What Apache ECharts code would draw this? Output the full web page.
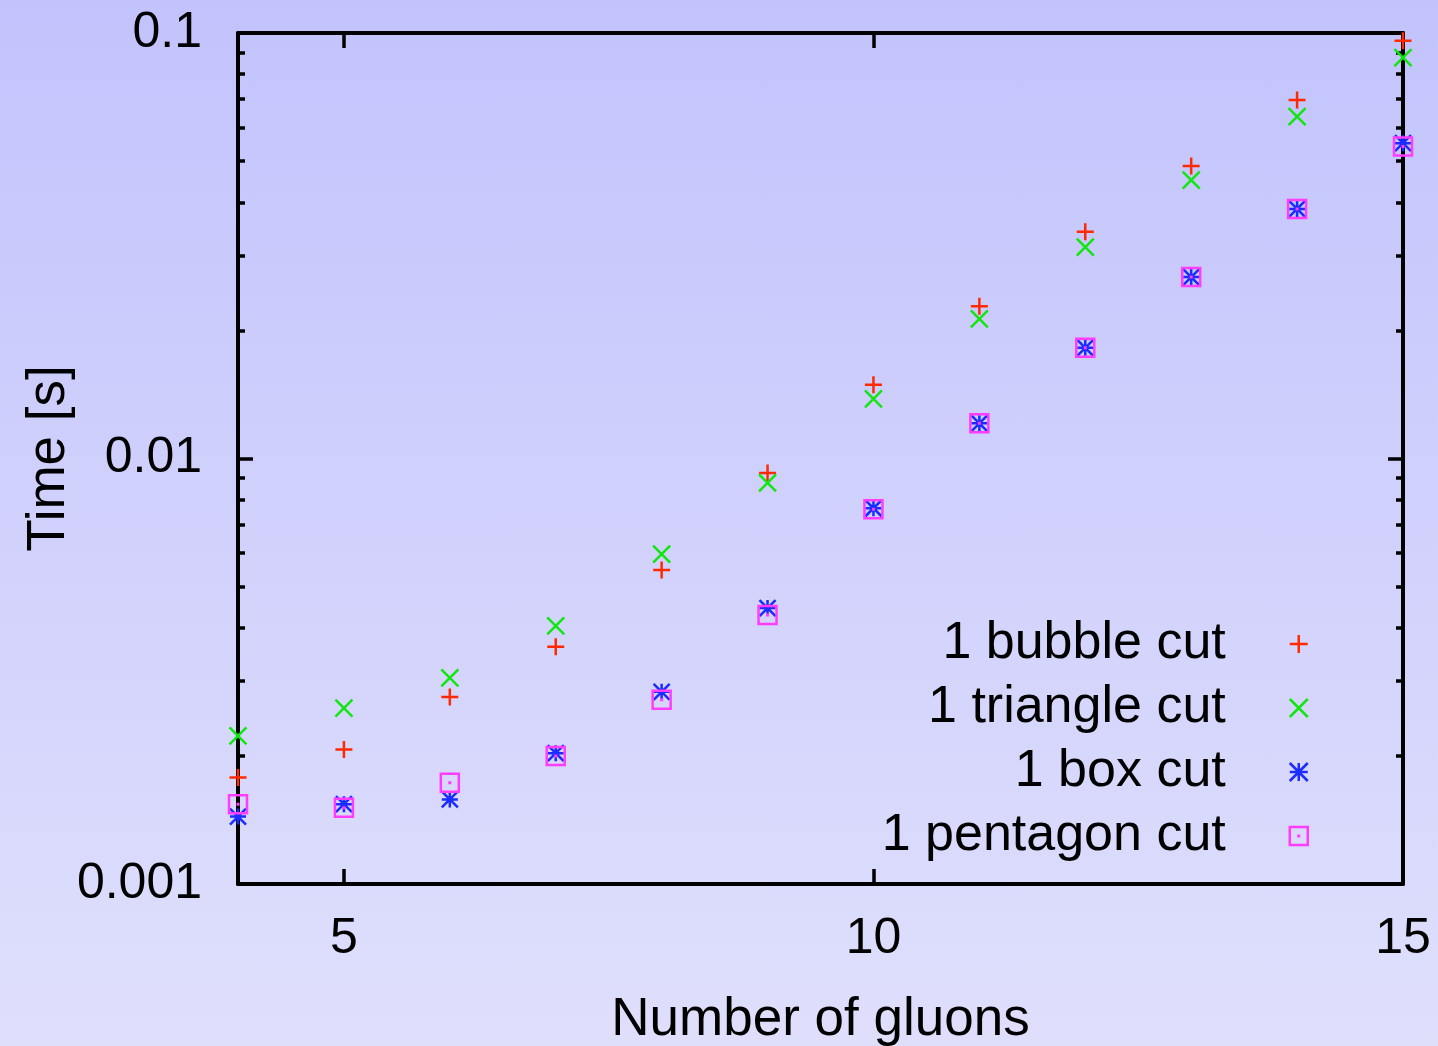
<!DOCTYPE html>
<html>
<head>
<meta charset="utf-8">
<script src="https://cdn.jsdelivr.net/npm/echarts@6/dist/echarts.min.js"></script>
<style>
html,body{margin:0;padding:0;width:1438px;height:1046px;overflow:hidden;background:linear-gradient(#c2c3fc,#dfdffc);}
#chart{width:1438px;height:1046px;}
</style>
</head>
<body>
<div id="chart"></div>
<script>
var gluons = [4, 5, 6, 7, 8, 9, 10, 11, 12, 13, 14, 15];
var bubbleCut = [0.00178, 0.00207, 0.00275, 0.00361, 0.00547, 0.00925, 0.0149, 0.0228, 0.0341, 0.0487, 0.0696, 0.0959];
var triangleCut = [0.00223, 0.00259, 0.00305, 0.00404, 0.00596, 0.00876, 0.0138, 0.0213, 0.0314, 0.0451, 0.0636, 0.0875];
var boxCut = [0.00144, 0.00154, 0.00158, 0.00203, 0.00283, 0.00445, 0.00764, 0.0121, 0.0182, 0.0267, 0.0386, 0.0551];
var pentagonCut = [0.00154, 0.00151, 0.00173, 0.0020, 0.00271, 0.00429, 0.0076, 0.0121, 0.0182, 0.0267, 0.0386, 0.0541];
var seriesNames = ['1 bubble cut', '1 triangle cut', '1 box cut', '1 pentagon cut'];
var xTickValues = [5, 10, 15];
var yTickValues = [0.001, 0.01, 0.1];
var yMinorTickValues = [0.002, 0.003, 0.004, 0.005, 0.006, 0.007, 0.008, 0.009,
                        0.02, 0.03, 0.04, 0.05, 0.06, 0.07, 0.08, 0.09];

var FONT = 'Liberation Sans';
function pairs(ys) { return gluons.map(function (x, i) { return [x, ys[i]]; }); }

var symbols = {
  plus: 'path://M5 0 V10 M0 5 H10',
  cross: 'path://M0 0 L10 10 M10 0 L0 10',
  star: 'path://M5 0 V10 M0 5 H10 M0 0 L10 10 M10 0 L0 10',
  boxdot: 'path://M0 0 H10 V10 H0 Z M4.85 4.85 H5.15 V5.15 H4.85 Z'
};
var colors = ['#ff2a00', '#11e611', '#1a2cff', '#ff3cff'];
var syms = [symbols.plus, symbols.cross, symbols.star, symbols.boxdot];
var sizes = [17, 17, 16, 18];
var datas = [bubbleCut, triangleCut, boxCut, pentagonCut];

var chart = echarts.init(document.getElementById('chart'), null, {renderer: 'canvas'});

function yAxisBase(pos, major) {
  return {
    type: 'log', logBase: 10, min: 0.001, max: 0.1, position: pos,
    axisLine: {show: major, lineStyle: {color: '#000', width: 4}},
    axisTick: {show: true, inside: true, length: major ? 15 : 7,
               customValues: major ? yTickValues : yMinorTickValues,
               lineStyle: {color: '#000', width: 3.5}},
    minorTick: {show: false},
    splitLine: {show: false},
    axisLabel: {show: false}
  };
}

var yLeft = yAxisBase('left', true);
yLeft.axisLabel = {show: true, customValues: yTickValues, margin: 36,
  fontFamily: FONT, fontSize: 50, color: '#000',
  formatter: function (v) { return String(v); }};
yLeft.name = 'Time [s]';
yLeft.nameLocation = 'middle';
yLeft.nameRotate = 90;
yLeft.nameGap = 162;
yLeft.nameMoveOverlap = false;
yLeft.nameTextStyle = {fontFamily: FONT, fontSize: 53, color: '#000'};

var option = {
  backgroundColor: 'transparent',
  animation: false,
  grid: {left: 238, right: 35, top: 33, bottom: 162, containLabel: false, outerBoundsMode: 'none'},
  xAxis: [
    {type: 'value', min: 4, max: 15, position: 'bottom',
     axisLine: {show: true, lineStyle: {color: '#000', width: 4}},
     axisTick: {show: true, inside: true, length: 15, customValues: [5, 10],
                lineStyle: {color: '#000', width: 3.5}},
     splitLine: {show: false},
     axisLabel: {show: true, customValues: xTickValues, margin: 30,
                 fontFamily: FONT, fontSize: 50, color: '#000'},
     name: 'Number of gluons', nameLocation: 'middle', nameGap: 110,
     nameMoveOverlap: false,
     nameTextStyle: {fontFamily: FONT, fontSize: 53, color: '#000'}},
    {type: 'value', min: 4, max: 15, position: 'top',
     axisLine: {show: true, lineStyle: {color: '#000', width: 4}},
     axisTick: {show: true, inside: true, length: 15, customValues: [5, 10],
                lineStyle: {color: '#000', width: 3.5}},
     splitLine: {show: false},
     axisLabel: {show: false}}
  ],
  yAxis: [
    yLeft,
    yAxisBase('right', true),
    yAxisBase('left', false),
    yAxisBase('right', false)
  ],
  legend: {
    orient: 'vertical', right: 124, top: 607, align: 'right',
    itemWidth: 136, itemHeight: 18, itemGap: 0,
    selectedMode: false,
    textStyle: {fontFamily: FONT, fontSize: 52, color: '#000', lineHeight: 64},
    itemStyle: {borderWidth: 2.5},
    data: seriesNames
  },
  series: seriesNames.map(function (name, i) {
    return {
      name: name, type: 'scatter', xAxisIndex: 0, yAxisIndex: 0,
      data: pairs(datas[i]),
      symbol: syms[i], symbolSize: sizes[i], symbolKeepAspect: true,
      clip: false,
      itemStyle: {color: 'rgba(0,0,0,0)', borderColor: colors[i], borderWidth: 2.5, opacity: 1},
      emphasis: {disabled: true},
      z: 3
    };
  })
};
chart.setOption(option);
</script>
</body>
</html>
